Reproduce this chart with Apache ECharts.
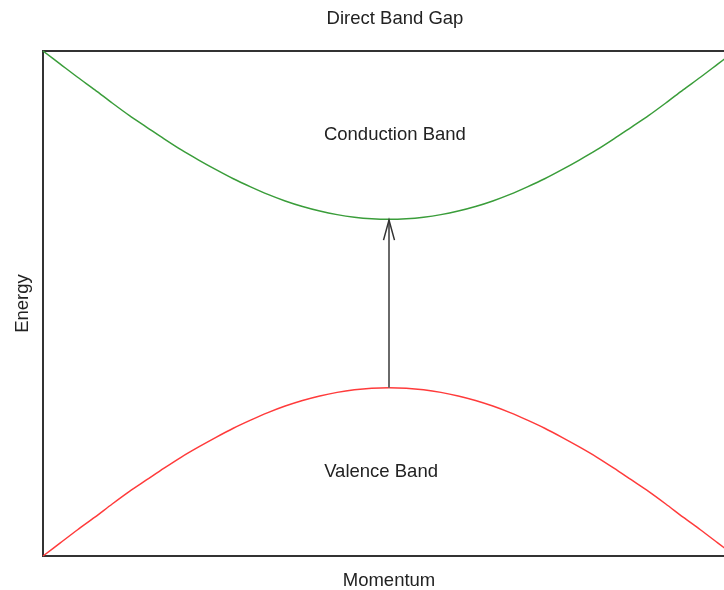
<!DOCTYPE html>
<html>
<head>
<meta charset="utf-8">
<script src="https://cdn.jsdelivr.net/npm/echarts@6/dist/echarts.min.js"></script>
<style>html,body{margin:0;padding:0;background:#fff;}#c{width:724px;height:590px;}</style>
</head>
<body>
<div id="c"></div>
<script>
// Momentum samples
var momentum = [-1, -0.95, -0.9, -0.85, -0.8, -0.75, -0.7, -0.65, -0.6, -0.55, -0.5, -0.45, -0.4, -0.35, -0.3, -0.25, -0.2, -0.15, -0.1, -0.05,
  0, 0.05, 0.1, 0.15, 0.2, 0.25, 0.3, 0.35, 0.4, 0.45, 0.5, 0.55, 0.6, 0.65, 0.7, 0.75, 0.8, 0.85, 0.9, 0.95, 1];
// Conduction band energy
var conduction = [1.0, 0.974, 0.948, 0.923, 0.897, 0.872, 0.849, 0.826, 0.804, 0.784, 0.765, 0.747, 0.731, 0.716, 0.703, 0.692, 0.683, 0.676, 0.671, 0.668,
  0.667, 0.668, 0.671, 0.676, 0.683, 0.692, 0.703, 0.716, 0.731, 0.747, 0.765, 0.784, 0.804, 0.826, 0.849, 0.872, 0.897, 0.923, 0.948, 0.974, 1.0];
// Valence band energy
var valence = [0, 0.026, 0.052, 0.077, 0.103, 0.128, 0.151, 0.174, 0.196, 0.216, 0.235, 0.253, 0.269, 0.284, 0.297, 0.308, 0.317, 0.324, 0.329, 0.332,
  0.333, 0.332, 0.329, 0.324, 0.317, 0.308, 0.297, 0.284, 0.269, 0.253, 0.235, 0.216, 0.196, 0.174, 0.151, 0.128, 0.103, 0.077, 0.052, 0.026, 0];
// Band-gap arrow: [momentum, from energy, to energy]
var gapArrow = [[0, 0.333, 0.667]];
// Band labels: [momentum, energy, text]
var bandLabels = [[0.017, 0.834, 'Conduction Band'], [-0.023, 0.166, 'Valence Band']];

function pairs(xs, ys) { return xs.map(function (x, i) { return [x, ys[i]]; }); }

var chart = echarts.init(document.getElementById('c'), null, {renderer: 'canvas'});
var fontFam = '"Liberation Sans", Arial, sans-serif';
var fs = 18.5;
chart.setOption({
  animation: false,
  title: {
    text: 'Direct Band Gap', left: 390, top: 4, textAlign: 'center',
    textStyle: {fontFamily: fontFam, fontSize: fs, fontWeight: 'normal', color: '#222'}
  },
  grid: {left: 43, right: -11, top: 51, bottom: 34, show: true, borderColor: '#333', borderWidth: 2,
         backgroundColor: 'transparent', containLabel: false, outerBoundsMode: 'none'},
  xAxis: {
    type: 'value', min: -1, max: 1,
    name: 'Momentum', nameLocation: 'middle', nameGap: 15,
    nameTextStyle: {fontFamily: fontFam, fontSize: fs, color: '#222'},
    axisLine: {show: false}, axisTick: {show: false}, axisLabel: {show: false}, splitLine: {show: false}
  },
  yAxis: {
    type: 'value', min: 0, max: 1,
    name: 'Energy', nameLocation: 'middle', nameGap: 11,
    nameTextStyle: {fontFamily: fontFam, fontSize: fs, color: '#222'},
    axisLine: {show: false}, axisTick: {show: false}, axisLabel: {show: false}, splitLine: {show: false}
  },
  series: [
    {type: 'line', data: pairs(momentum, conduction), smooth: 0.3, showSymbol: false,
     lineStyle: {color: '#3a9d3a', width: 1.5}, z: 3},
    {type: 'line', data: pairs(momentum, valence), smooth: 0.3, showSymbol: false,
     lineStyle: {color: '#ff3b3b', width: 1.5}, z: 3},
    {type: 'custom', data: gapArrow, z: 4,
     renderItem: function (params, api) {
       var p0 = api.coord([api.value(0), api.value(1)]);
       var p1 = api.coord([api.value(0), api.value(2)]);
       return {type: 'group', children: [
         {type: 'line', shape: {x1: p0[0], y1: p0[1], x2: p1[0], y2: p1[1] + 1},
          style: {stroke: '#6a6a6a', lineWidth: 2}},
         {type: 'polyline', shape: {points: [[p1[0] - 5.5, p1[1] + 21], [p1[0], p1[1] + 1], [p1[0] + 5.5, p1[1] + 21]]},
          style: {stroke: '#333', lineWidth: 1.5, fill: null}}
       ]};
     }},
    {type: 'custom', data: bandLabels, z: 5,
     renderItem: function (params, api) {
       var p = api.coord([api.value(0), api.value(1)]);
       return {type: 'text', x: p[0], y: p[1],
         style: {text: bandLabels[params.dataIndex][2], fontFamily: fontFam, fontSize: fs, fill: '#222',
                 align: 'center', verticalAlign: 'middle'}};
     }}
  ]
});
</script>
</body>
</html>
